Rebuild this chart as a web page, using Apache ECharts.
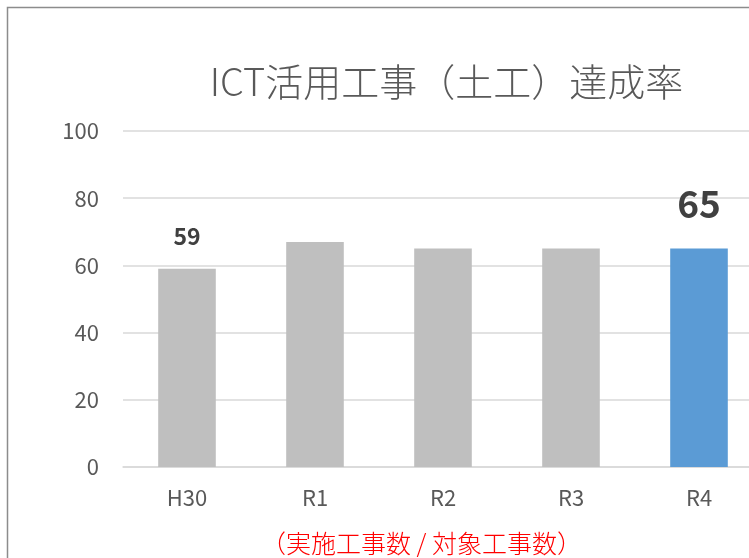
<!DOCTYPE html>
<html>
<head>
<meta charset="utf-8">
<script src="https://cdn.jsdelivr.net/npm/echarts@6/dist/echarts.min.js"></script>
<style>
  html, body { margin: 0; padding: 0; background: #fff; }
  #chart { width: 749px; height: 558px; }
</style>
</head>
<body>
<div id="chart"></div>
<script>
// Fiscal years and achievement rate (%)
const categories = ['H30', 'R1', 'R2', 'R3', 'R4'];
const rates = [59, 67, 65, 65, 65];
const yTicks = [0, 20, 40, 60, 80, 100];
const titleText = 'ICT活用工事（土工）達成率';
const noteText = '（実施工事数 / 対象工事数）';

const FONT = '"Noto Sans CJK JP", "Noto Sans", sans-serif';
const last = rates.length - 1;

const seriesData = rates.map((v, i) => {
  const item = { value: v, itemStyle: { color: i === last ? '#5b9bd5' : '#bfbfbf' } };
  if (i === 0) {
    item.label = { show: true, position: 'top', distance: 21, fontSize: 23, fontWeight: 'bold', color: '#404040', fontFamily: FONT };
  } else if (i === last) {
    item.label = { show: true, position: 'top', distance: 26, fontSize: 37, fontWeight: 'bold', color: '#404040', fontFamily: FONT };
  }
  return item;
});

const chart = echarts.init(document.getElementById('chart'), null, { renderer: 'canvas' });
chart.setOption({
  animation: false,
  backgroundColor: '#ffffff',
  graphic: [
    { type: 'rect', shape: { x: 7.5, y: 7.5, width: 800, height: 600 }, style: { fill: 'none', stroke: '#8c8c8c', lineWidth: 1.5 }, z: 0 },
    { type: 'text', x: 446.5, y: 82, style: { text: titleText, font: '300 38px ' + FONT, fill: '#595959', align: 'center', verticalAlign: 'middle' } },
    { type: 'text', x: 421.5, y: 543, style: { text: noteText, font: '300 25px ' + FONT, fill: '#ff0000', align: 'center', verticalAlign: 'middle' } }
  ],
  // the plot runs past the right edge of the canvas, so the last bar sits near the border
  grid: { left: 123, width: 640, top: 131, height: 336, containLabel: false, outerBoundsMode: 'none' },
  xAxis: {
    type: 'category',
    data: categories,
    axisLine: { show: true, lineStyle: { color: '#d9d9d9', width: 1.5 } },
    axisTick: { show: false },
    axisLabel: { fontFamily: FONT, fontSize: 22, color: '#595959', margin: 20 }
  },
  yAxis: {
    type: 'value',
    min: yTicks[0], max: yTicks[yTicks.length - 1], interval: yTicks[1] - yTicks[0],
    axisLine: { show: false },
    axisTick: { show: false },
    splitLine: { lineStyle: { color: '#d9d9d9', width: 1.5 } },
    axisLabel: { fontFamily: FONT, fontSize: 22, color: '#595959', margin: 24 }
  },
  series: [{
    type: 'bar',
    data: seriesData,
    barWidth: '45%',
    label: { show: false }
  }]
});
</script>
</body>
</html>
